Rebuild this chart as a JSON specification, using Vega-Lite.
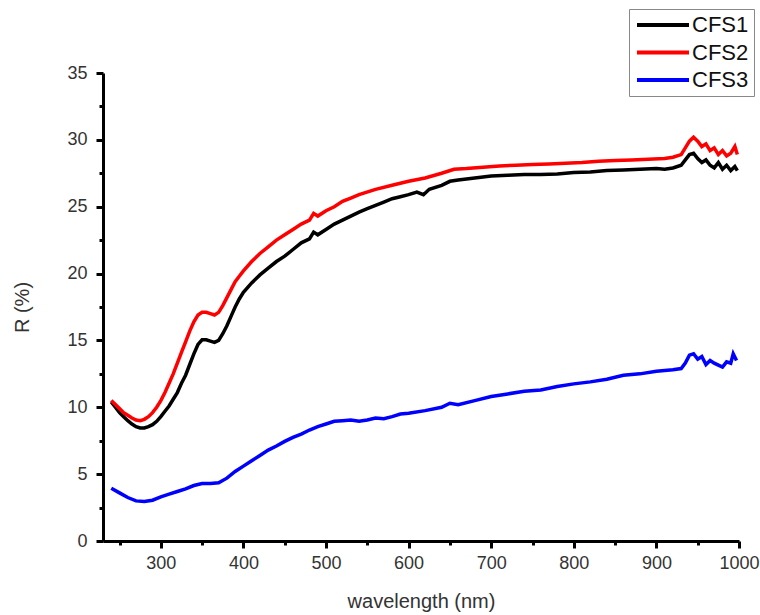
{
  "$schema": "https://vega.github.io/schema/vega-lite/v6.json",
  "width": 636,
  "height": 468,
  "autosize": {"type": "none"},
  "padding": {"left": 103, "top": 73, "right": 21, "bottom": 74},
  "background": "white",
  "config": {
    "view": {"stroke": null},
    "font": "Liberation Sans"
  },
  "datasets": {
    "spectra": [
      {"w":240,"R":10.4,"s":"CFS1"},{"w":245,"R":10.0,"s":"CFS1"},{"w":250,"R":9.6,"s":"CFS1"},{"w":255,"R":9.3,"s":"CFS1"},{"w":260,"R":9.0,"s":"CFS1"},{"w":265,"R":8.75,"s":"CFS1"},{"w":270,"R":8.55,"s":"CFS1"},{"w":275,"R":8.45,"s":"CFS1"},{"w":280,"R":8.45,"s":"CFS1"},{"w":285,"R":8.55,"s":"CFS1"},{"w":290,"R":8.7,"s":"CFS1"},{"w":295,"R":8.95,"s":"CFS1"},{"w":300,"R":9.3,"s":"CFS1"},{"w":305,"R":9.7,"s":"CFS1"},{"w":310,"R":10.1,"s":"CFS1"},{"w":315,"R":10.6,"s":"CFS1"},{"w":320,"R":11.1,"s":"CFS1"},{"w":325,"R":11.8,"s":"CFS1"},{"w":330,"R":12.4,"s":"CFS1"},{"w":335,"R":13.2,"s":"CFS1"},{"w":340,"R":14.0,"s":"CFS1"},{"w":345,"R":14.7,"s":"CFS1"},{"w":350,"R":15.05,"s":"CFS1"},{"w":355,"R":15.05,"s":"CFS1"},{"w":360,"R":14.95,"s":"CFS1"},{"w":365,"R":14.85,"s":"CFS1"},{"w":370,"R":15.0,"s":"CFS1"},{"w":375,"R":15.5,"s":"CFS1"},{"w":380,"R":16.1,"s":"CFS1"},{"w":385,"R":16.8,"s":"CFS1"},{"w":390,"R":17.5,"s":"CFS1"},{"w":395,"R":18.1,"s":"CFS1"},{"w":400,"R":18.6,"s":"CFS1"},{"w":410,"R":19.3,"s":"CFS1"},{"w":420,"R":19.9,"s":"CFS1"},{"w":430,"R":20.4,"s":"CFS1"},{"w":440,"R":20.9,"s":"CFS1"},{"w":450,"R":21.3,"s":"CFS1"},{"w":460,"R":21.8,"s":"CFS1"},{"w":470,"R":22.3,"s":"CFS1"},{"w":480,"R":22.6,"s":"CFS1"},{"w":485,"R":23.1,"s":"CFS1"},{"w":490,"R":22.9,"s":"CFS1"},{"w":500,"R":23.3,"s":"CFS1"},{"w":510,"R":23.7,"s":"CFS1"},{"w":520,"R":24.0,"s":"CFS1"},{"w":530,"R":24.3,"s":"CFS1"},{"w":540,"R":24.6,"s":"CFS1"},{"w":550,"R":24.85,"s":"CFS1"},{"w":560,"R":25.1,"s":"CFS1"},{"w":570,"R":25.35,"s":"CFS1"},{"w":580,"R":25.6,"s":"CFS1"},{"w":590,"R":25.75,"s":"CFS1"},{"w":600,"R":25.9,"s":"CFS1"},{"w":610,"R":26.1,"s":"CFS1"},{"w":618,"R":25.9,"s":"CFS1"},{"w":625,"R":26.3,"s":"CFS1"},{"w":640,"R":26.6,"s":"CFS1"},{"w":650,"R":26.9,"s":"CFS1"},{"w":660,"R":27.0,"s":"CFS1"},{"w":680,"R":27.15,"s":"CFS1"},{"w":700,"R":27.3,"s":"CFS1"},{"w":720,"R":27.35,"s":"CFS1"},{"w":740,"R":27.4,"s":"CFS1"},{"w":760,"R":27.4,"s":"CFS1"},{"w":780,"R":27.45,"s":"CFS1"},{"w":800,"R":27.55,"s":"CFS1"},{"w":820,"R":27.6,"s":"CFS1"},{"w":840,"R":27.7,"s":"CFS1"},{"w":860,"R":27.75,"s":"CFS1"},{"w":880,"R":27.8,"s":"CFS1"},{"w":900,"R":27.85,"s":"CFS1"},{"w":910,"R":27.8,"s":"CFS1"},{"w":920,"R":27.9,"s":"CFS1"},{"w":930,"R":28.1,"s":"CFS1"},{"w":935,"R":28.5,"s":"CFS1"},{"w":940,"R":28.9,"s":"CFS1"},{"w":945,"R":29.0,"s":"CFS1"},{"w":950,"R":28.6,"s":"CFS1"},{"w":955,"R":28.3,"s":"CFS1"},{"w":960,"R":28.5,"s":"CFS1"},{"w":965,"R":28.1,"s":"CFS1"},{"w":970,"R":27.9,"s":"CFS1"},{"w":975,"R":28.3,"s":"CFS1"},{"w":980,"R":27.8,"s":"CFS1"},{"w":985,"R":28.1,"s":"CFS1"},{"w":990,"R":27.7,"s":"CFS1"},{"w":995,"R":28.0,"s":"CFS1"},{"w":998,"R":27.7,"s":"CFS1"},

      {"w":240,"R":10.5,"s":"CFS2"},{"w":245,"R":10.2,"s":"CFS2"},{"w":250,"R":9.9,"s":"CFS2"},{"w":255,"R":9.6,"s":"CFS2"},{"w":260,"R":9.4,"s":"CFS2"},{"w":265,"R":9.2,"s":"CFS2"},{"w":270,"R":9.05,"s":"CFS2"},{"w":275,"R":9.0,"s":"CFS2"},{"w":280,"R":9.1,"s":"CFS2"},{"w":285,"R":9.3,"s":"CFS2"},{"w":290,"R":9.6,"s":"CFS2"},{"w":295,"R":10.0,"s":"CFS2"},{"w":300,"R":10.5,"s":"CFS2"},{"w":305,"R":11.1,"s":"CFS2"},{"w":310,"R":11.8,"s":"CFS2"},{"w":315,"R":12.5,"s":"CFS2"},{"w":320,"R":13.3,"s":"CFS2"},{"w":325,"R":14.1,"s":"CFS2"},{"w":330,"R":14.9,"s":"CFS2"},{"w":335,"R":15.7,"s":"CFS2"},{"w":340,"R":16.4,"s":"CFS2"},{"w":345,"R":16.9,"s":"CFS2"},{"w":350,"R":17.1,"s":"CFS2"},{"w":355,"R":17.1,"s":"CFS2"},{"w":360,"R":17.0,"s":"CFS2"},{"w":365,"R":16.9,"s":"CFS2"},{"w":370,"R":17.1,"s":"CFS2"},{"w":375,"R":17.6,"s":"CFS2"},{"w":380,"R":18.2,"s":"CFS2"},{"w":385,"R":18.8,"s":"CFS2"},{"w":390,"R":19.4,"s":"CFS2"},{"w":395,"R":19.8,"s":"CFS2"},{"w":400,"R":20.2,"s":"CFS2"},{"w":410,"R":20.9,"s":"CFS2"},{"w":420,"R":21.5,"s":"CFS2"},{"w":430,"R":22.0,"s":"CFS2"},{"w":440,"R":22.5,"s":"CFS2"},{"w":450,"R":22.9,"s":"CFS2"},{"w":460,"R":23.3,"s":"CFS2"},{"w":470,"R":23.7,"s":"CFS2"},{"w":480,"R":24.0,"s":"CFS2"},{"w":485,"R":24.5,"s":"CFS2"},{"w":490,"R":24.3,"s":"CFS2"},{"w":500,"R":24.7,"s":"CFS2"},{"w":510,"R":25.0,"s":"CFS2"},{"w":520,"R":25.4,"s":"CFS2"},{"w":530,"R":25.65,"s":"CFS2"},{"w":540,"R":25.9,"s":"CFS2"},{"w":560,"R":26.3,"s":"CFS2"},{"w":580,"R":26.6,"s":"CFS2"},{"w":600,"R":26.9,"s":"CFS2"},{"w":620,"R":27.15,"s":"CFS2"},{"w":640,"R":27.5,"s":"CFS2"},{"w":655,"R":27.8,"s":"CFS2"},{"w":670,"R":27.85,"s":"CFS2"},{"w":690,"R":27.95,"s":"CFS2"},{"w":710,"R":28.05,"s":"CFS2"},{"w":730,"R":28.1,"s":"CFS2"},{"w":750,"R":28.15,"s":"CFS2"},{"w":770,"R":28.2,"s":"CFS2"},{"w":790,"R":28.25,"s":"CFS2"},{"w":810,"R":28.3,"s":"CFS2"},{"w":830,"R":28.4,"s":"CFS2"},{"w":850,"R":28.45,"s":"CFS2"},{"w":870,"R":28.5,"s":"CFS2"},{"w":890,"R":28.55,"s":"CFS2"},{"w":910,"R":28.6,"s":"CFS2"},{"w":920,"R":28.7,"s":"CFS2"},{"w":930,"R":28.9,"s":"CFS2"},{"w":935,"R":29.4,"s":"CFS2"},{"w":940,"R":29.9,"s":"CFS2"},{"w":945,"R":30.2,"s":"CFS2"},{"w":950,"R":29.9,"s":"CFS2"},{"w":955,"R":29.5,"s":"CFS2"},{"w":960,"R":29.7,"s":"CFS2"},{"w":965,"R":29.2,"s":"CFS2"},{"w":970,"R":29.4,"s":"CFS2"},{"w":975,"R":28.9,"s":"CFS2"},{"w":980,"R":29.2,"s":"CFS2"},{"w":985,"R":28.8,"s":"CFS2"},{"w":990,"R":29.0,"s":"CFS2"},{"w":995,"R":29.5,"s":"CFS2"},{"w":998,"R":28.9,"s":"CFS2"},

      {"w":240,"R":3.95,"s":"CFS3"},{"w":250,"R":3.6,"s":"CFS3"},{"w":260,"R":3.25,"s":"CFS3"},{"w":270,"R":3.0,"s":"CFS3"},{"w":280,"R":2.95,"s":"CFS3"},{"w":290,"R":3.05,"s":"CFS3"},{"w":300,"R":3.3,"s":"CFS3"},{"w":310,"R":3.5,"s":"CFS3"},{"w":320,"R":3.7,"s":"CFS3"},{"w":330,"R":3.9,"s":"CFS3"},{"w":340,"R":4.15,"s":"CFS3"},{"w":350,"R":4.3,"s":"CFS3"},{"w":360,"R":4.3,"s":"CFS3"},{"w":370,"R":4.35,"s":"CFS3"},{"w":380,"R":4.7,"s":"CFS3"},{"w":390,"R":5.2,"s":"CFS3"},{"w":400,"R":5.6,"s":"CFS3"},{"w":410,"R":6.0,"s":"CFS3"},{"w":420,"R":6.4,"s":"CFS3"},{"w":430,"R":6.8,"s":"CFS3"},{"w":440,"R":7.1,"s":"CFS3"},{"w":450,"R":7.45,"s":"CFS3"},{"w":460,"R":7.75,"s":"CFS3"},{"w":470,"R":8.0,"s":"CFS3"},{"w":480,"R":8.3,"s":"CFS3"},{"w":490,"R":8.55,"s":"CFS3"},{"w":500,"R":8.75,"s":"CFS3"},{"w":510,"R":8.95,"s":"CFS3"},{"w":520,"R":9.0,"s":"CFS3"},{"w":530,"R":9.05,"s":"CFS3"},{"w":540,"R":8.95,"s":"CFS3"},{"w":550,"R":9.05,"s":"CFS3"},{"w":560,"R":9.2,"s":"CFS3"},{"w":570,"R":9.15,"s":"CFS3"},{"w":580,"R":9.3,"s":"CFS3"},{"w":590,"R":9.5,"s":"CFS3"},{"w":600,"R":9.55,"s":"CFS3"},{"w":620,"R":9.75,"s":"CFS3"},{"w":640,"R":10.0,"s":"CFS3"},{"w":650,"R":10.3,"s":"CFS3"},{"w":660,"R":10.2,"s":"CFS3"},{"w":680,"R":10.5,"s":"CFS3"},{"w":700,"R":10.8,"s":"CFS3"},{"w":720,"R":11.0,"s":"CFS3"},{"w":740,"R":11.2,"s":"CFS3"},{"w":760,"R":11.3,"s":"CFS3"},{"w":780,"R":11.55,"s":"CFS3"},{"w":800,"R":11.75,"s":"CFS3"},{"w":820,"R":11.9,"s":"CFS3"},{"w":840,"R":12.1,"s":"CFS3"},{"w":860,"R":12.4,"s":"CFS3"},{"w":880,"R":12.5,"s":"CFS3"},{"w":900,"R":12.7,"s":"CFS3"},{"w":920,"R":12.8,"s":"CFS3"},{"w":930,"R":12.9,"s":"CFS3"},{"w":935,"R":13.3,"s":"CFS3"},{"w":940,"R":13.9,"s":"CFS3"},{"w":945,"R":14.0,"s":"CFS3"},{"w":950,"R":13.6,"s":"CFS3"},{"w":955,"R":13.8,"s":"CFS3"},{"w":960,"R":13.2,"s":"CFS3"},{"w":965,"R":13.5,"s":"CFS3"},{"w":970,"R":13.3,"s":"CFS3"},{"w":975,"R":13.15,"s":"CFS3"},{"w":980,"R":13.0,"s":"CFS3"},{"w":985,"R":13.4,"s":"CFS3"},{"w":990,"R":13.3,"s":"CFS3"},{"w":993,"R":14.0,"s":"CFS3"},{"w":997,"R":13.5,"s":"CFS3"}
    ]
  },
  "data": {"name": "spectra"},
  "mark": {"type": "line", "strokeWidth": 3.5, "clip": true},
  "encoding": {
    "x": {
      "field": "w", "type": "quantitative",
      "scale": {"domain": [230, 1000], "nice": false, "zero": false},
      "axis": {
        "title": "wavelength (nm)",
        "values": [250,300,350,400,450,500,550,600,650,700,750,800,850,900,950,1000],
        "labelExpr": "datum.value % 100 === 0 ? datum.label : ''",
        "format": "d",
        "labelOverlap": false,
        "labelFlush": false,
        "grid": false,
        "domainColor": "black", "domainWidth": 3,
        "tickColor": "black", "tickWidth": 3,
        "tickSize": {"condition": {"test": "datum.value % 100 !== 0", "value": 4}, "value": 7},
        "labelFontSize": 18, "labelColor": "#333", "labelPadding": 6,
        "titleFontSize": 20, "titleColor": "#333", "titleFontWeight": "normal", "titlePadding": 19
      }
    },
    "y": {
      "field": "R", "type": "quantitative",
      "scale": {"domain": [0, 35], "nice": false},
      "axis": {
        "title": "R (%)",
        "values": [0,2.5,5,7.5,10,12.5,15,17.5,20,22.5,25,27.5,30,32.5,35],
        "labelExpr": "datum.value % 5 === 0 ? datum.label : ''",
        "labelOverlap": false,
        "labelFlush": false,
        "grid": false,
        "domainColor": "black", "domainWidth": 3,
        "tickColor": "black", "tickWidth": 3,
        "tickSize": {"condition": {"test": "datum.value % 5 !== 0", "value": 4}, "value": 7},
        "labelFontSize": 18, "labelColor": "#333", "labelPadding": 9,
        "titleFontSize": 20, "titleColor": "#333", "titleFontWeight": "normal", "titlePadding": 34
      }
    },
    "color": {
      "field": "s", "type": "nominal",
      "scale": {"domain": ["CFS1", "CFS2", "CFS3"], "range": ["#000000", "#ff0000", "#0000ff"]},
      "legend": {
        "title": null,
        "orient": "none",
        "legendX": 526,
        "legendY": -64,
        "symbolType": "M-4,0H4",
        "symbolSize": 169,
        "symbolStrokeWidth": 4,
        "symbolOffset": 18,
        "labelFontSize": 22,
        "labelColor": "#111",
        "labelOffset": 18,
        "rowPadding": 5.5,
        "padding": 5,
        "strokeColor": "#888",
        "fillColor": "white"
      }
    }
  }
}
